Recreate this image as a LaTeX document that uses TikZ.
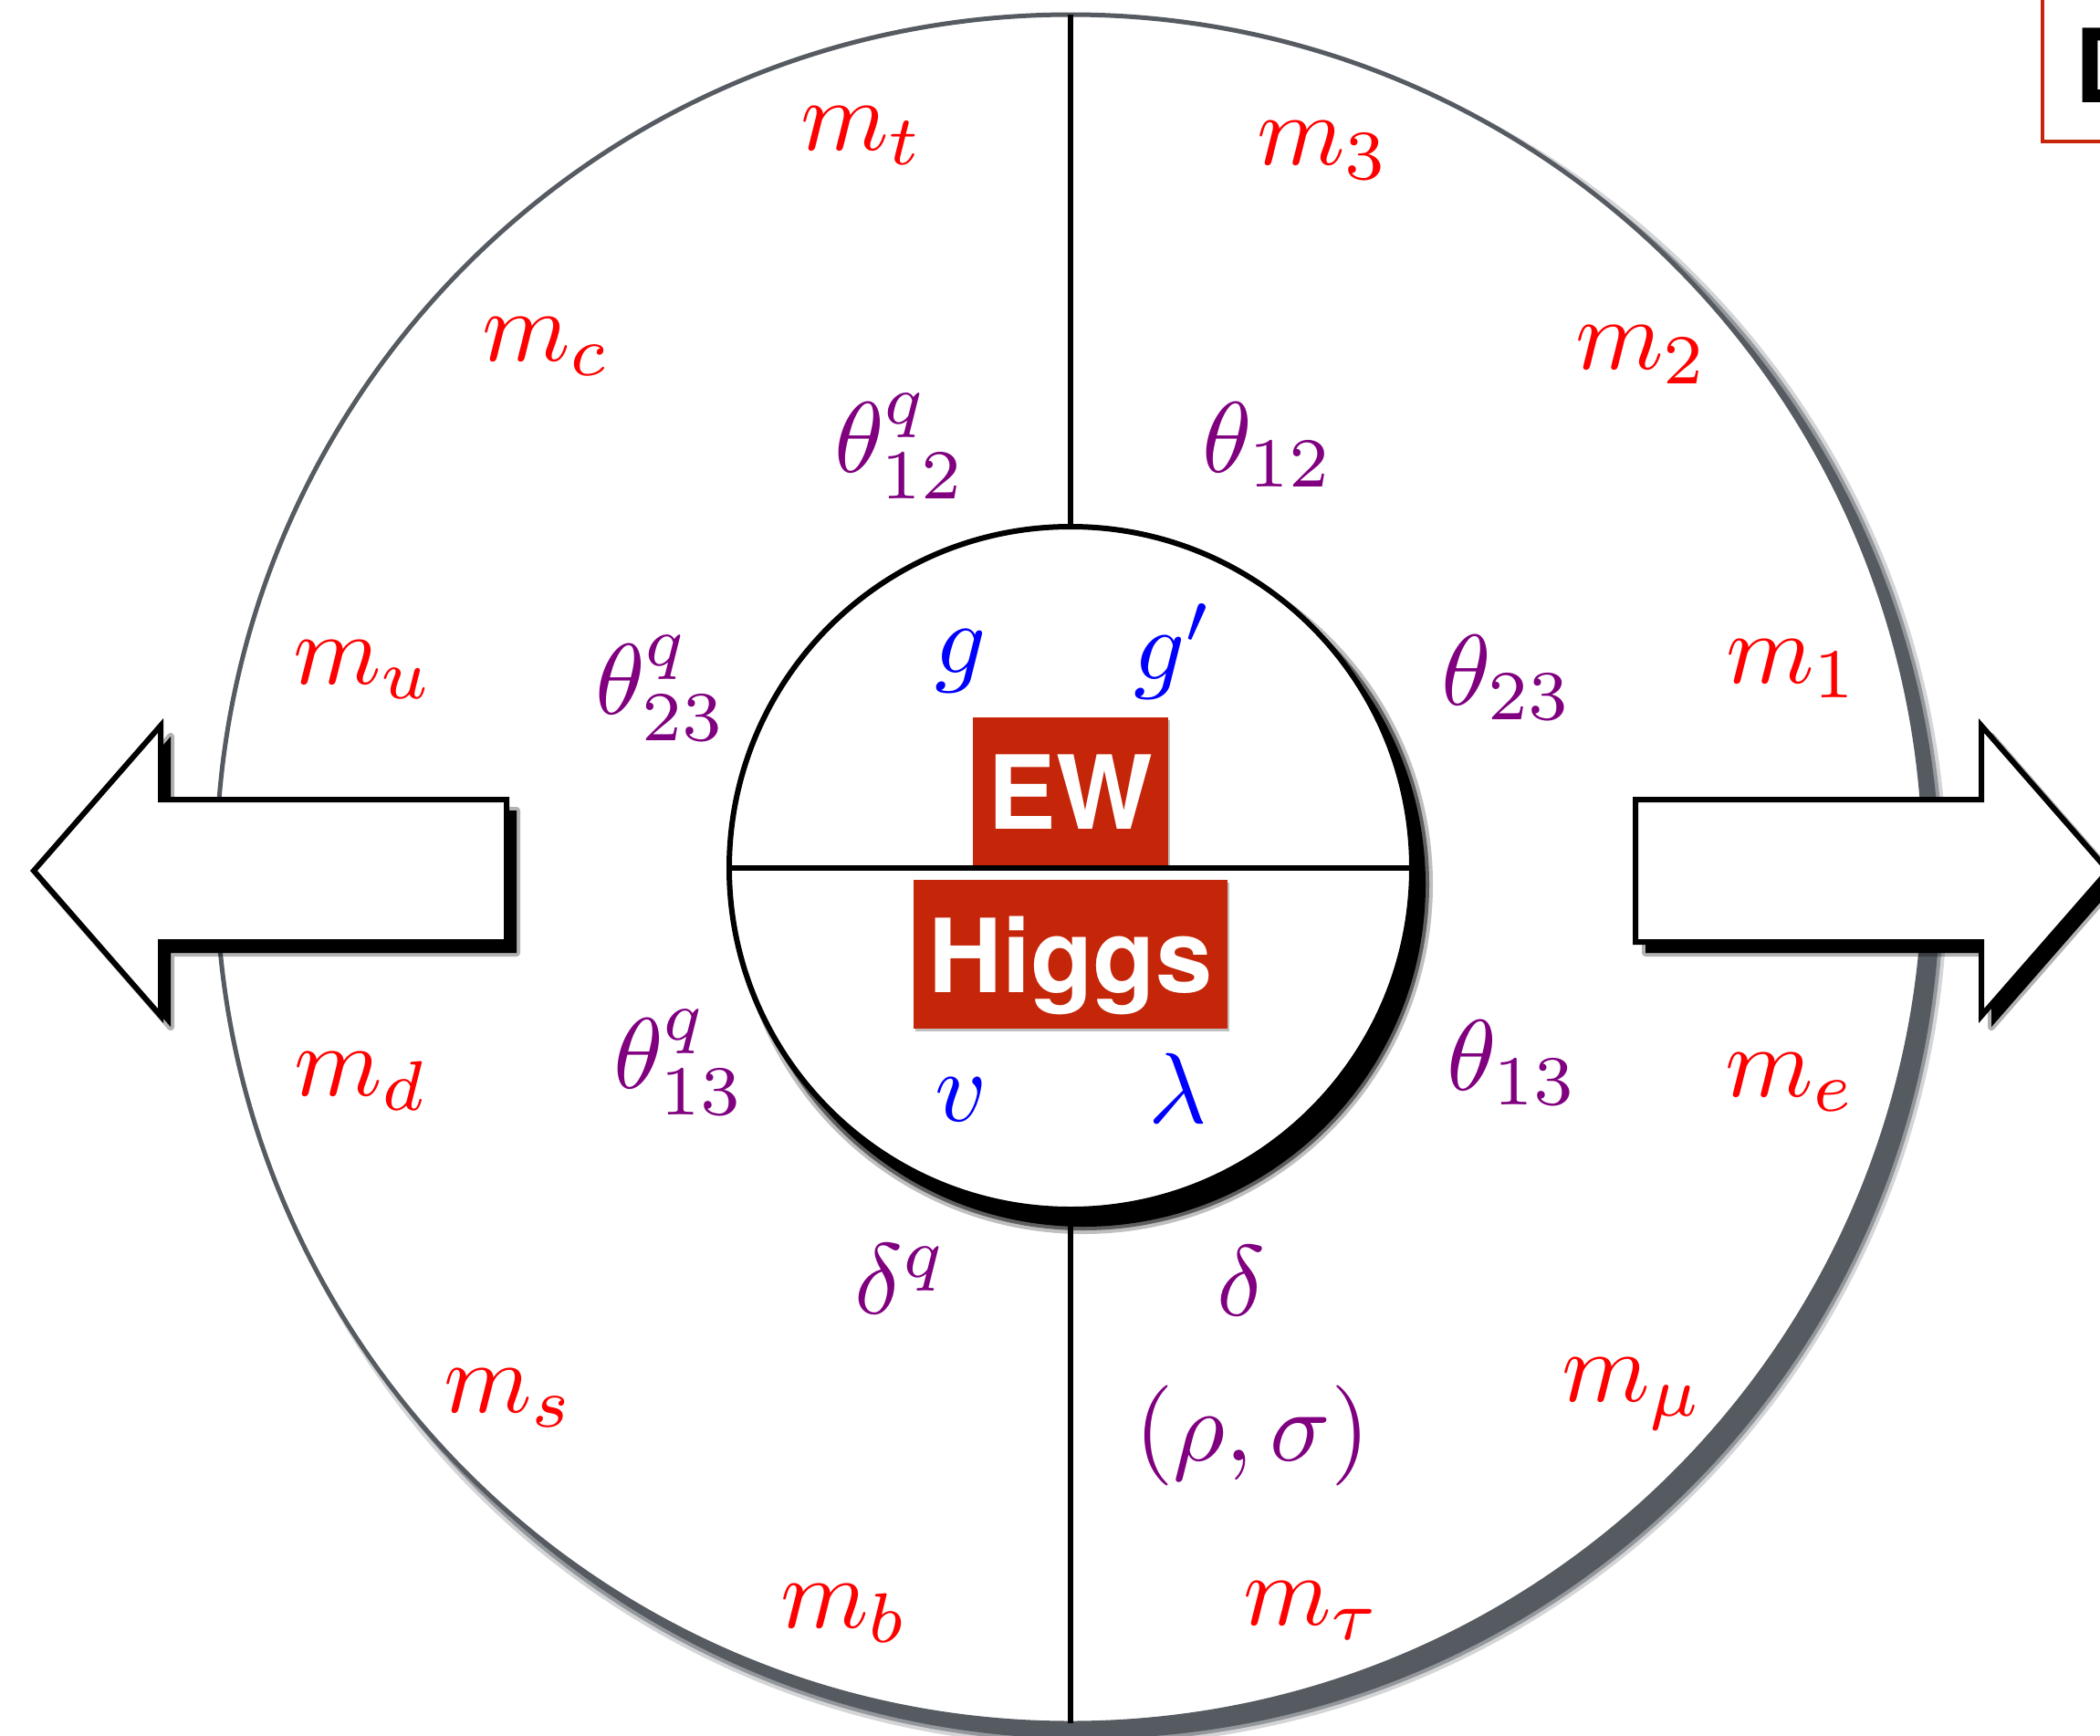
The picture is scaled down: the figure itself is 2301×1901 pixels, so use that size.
\documentclass[tikz,border=0pt]{standalone}
\usepackage{fontspec}
\usepackage{graphicx}
\usetikzlibrary{shadows}
\newfontfamily\herosfont{TeX Gyre Heros}
\definecolor{ewred}{RGB}{197,38,10}
\definecolor{ringgray}{RGB}{86,91,98}
\definecolor{mred}{RGB}{255,0,0}
\definecolor{mpurple}{RGB}{128,0,128}
\definecolor{mblue}{RGB}{0,0,255}
\newcommand\mlbl[1]{\scalebox{11}{$#1$}}
\tikzset{
  lbl/.style={inner sep=0pt, anchor=base west},
  qm/.style={lbl, text=mred},
  qp/.style={lbl, text=mpurple},
  qb/.style={lbl, text=mblue},
  ring/.style={circle, inner sep=0pt, outer sep=0pt, fill=white},
  ewbox/.style={fill=ewred, text=white, inner sep=0pt, text depth=0pt,
    font=\herosfont\bfseries\fontsize{112}{112}\selectfont,
    drop shadow={shadow xshift=2pt, shadow yshift=-3pt, opacity=.25, fill=black}},
  bigarrow/.style={draw=black, fill=white, line width=6pt, line join=miter},
  divider/.style={draw=black, line width=5.5pt}
}
\begin{document}
\begin{tikzpicture}[x=1pt,y=-1pt]
\useasboundingbox (0,0) rectangle (2301,1901);
\clip (0,0) rectangle (2301,1901);
\fill[white] (0,0) rectangle (2301,1901);

% outer ring shadow
\fill[ringgray, opacity=.25] (1189,968) circle[radius=945pt];
\fill[ringgray, opacity=.5] (1189,968) circle[radius=941pt];
\fill[ringgray] (1189,968) circle[radius=937pt];
\node[ring, draw=ringgray, line width=5pt, minimum size=1872pt] (outer) at (1173,952) {};

% inner ring reference for the dividers
\node[circle, inner sep=0pt, outer sep=0pt, minimum size=748pt] (innerref) at (1173,951) {};
\draw[divider] (outer.north) -- (innerref.north);
\draw[divider] (innerref.south) -- (outer.south);

% inner ring shadow
\fill[black, opacity=.25] (1187,969) circle[radius=383pt];
\fill[black, opacity=.5] (1187,969) circle[radius=379pt];
\fill[black] (1187,969) circle[radius=375pt];
\node[ring, draw=black, line width=6pt, minimum size=748pt] (inner) at (1173,951) {};

% EW and Higgs boxes
\node[ewbox, minimum width=214pt, minimum height=164pt] (ew) at (1173,868) {EW};
\node[ewbox, minimum width=344pt, minimum height=163pt] (higgs) at (1173,1045.5) {Higgs};
\draw[divider] (inner.west) -- (inner.east);

% labels
\node[qm] (mt) at (877,164) {\mlbl{m_t}};
\node[qm] (m3) at (1377,180) {\mlbl{m_3}};
\node[qm] (mc) at (528,395) {\mlbl{m_c}};
\node[qm] (m2) at (1726,404) {\mlbl{m_2}};
\node[qp] (th12q) at (914,517) {\mlbl{\theta^q_{12}}};
\node[qp] (th12) at (1317,517) {\mlbl{\theta_{12}}};
\node[qm] (mu) at (321,749) {\mlbl{m_u}};
\node[qp] (th23q) at (652,782) {\mlbl{\theta^q_{23}}};
\node[qb] (g) at (1024,737) {\mlbl{g}};
\node[qb] (gp) at (1242,744) {\mlbl{g'}};
\node[qp] (th23) at (1579,772) {\mlbl{\theta_{23}}};
\node[qm] (m1) at (1891,748) {\mlbl{m_1}};
\node[qm] (md) at (322,1200) {\mlbl{m_d}};
\node[qp] (th13q) at (672,1192) {\mlbl{\theta^q_{13}}};
\node[qb] (v) at (1024,1228) {\mlbl{v}};
\node[qb] (lam) at (1258,1230) {\mlbl{\lambda}};
\node[qp] (th13) at (1585,1194) {\mlbl{\theta_{13}}};
\node[qm] (me) at (1890,1201) {\mlbl{m_e}};
\node[qp] (dq) at (936,1439) {\mlbl{\delta^q}};
\node[qp] (dl) at (1333,1441) {\mlbl{\delta}};
\node[qp] (rs) at (1243,1600) {\mlbl{(\rho,\sigma)}};
\node[qm] (ms) at (486,1547) {\mlbl{m_s}};
\node[qm] (mmu) at (1711,1535) {\mlbl{m_\mu}};
\node[qm] (mb) at (855,1783) {\mlbl{m_b}};
\node[qm] (mtau) at (1362,1780) {\mlbl{m_\tau}};

% left arrow with shadow
\fill[black, opacity=.3, shift={(11,12)}, line width=8pt, draw=black, line join=round]
  (37,954) -- (176,795) -- (176,876) -- (555,876) -- (555,1032) -- (176,1032) -- (176,1113) -- cycle;
\fill[black, shift={(11,12)}]
  (37,954) -- (176,795) -- (176,876) -- (555,876) -- (555,1032) -- (176,1032) -- (176,1113) -- cycle;
\path[bigarrow]
  (37,954) -- (176,795) -- (176,876) -- (555,876) -- (555,1032) -- (176,1032) -- (176,1113) -- cycle;

% right arrow with shadow
\fill[black, opacity=.3, shift={(11,12)}, line width=8pt, draw=black, line join=round]
  (2310,954) -- (2171,795) -- (2171,876) -- (1792,876) -- (1792,1032) -- (2171,1032) -- (2171,1113) -- cycle;
\fill[black, shift={(11,12)}]
  (2310,954) -- (2171,795) -- (2171,876) -- (1792,876) -- (1792,1032) -- (2171,1032) -- (2171,1113) -- cycle;
\path[bigarrow]
  (2310,954) -- (2171,795) -- (2171,876) -- (1792,876) -- (1792,1032) -- (2171,1032) -- (2171,1113) -- cycle;

% partial box at top right
\draw[ewred, line width=4pt] (2238,-10) -- (2238,155) -- (2330,155);
\node[anchor=base west, inner sep=0pt, font=\herosfont\bfseries\fontsize{112}{112}\selectfont] (dd) at (2273,112) {D};
\end{tikzpicture}
\end{document}
